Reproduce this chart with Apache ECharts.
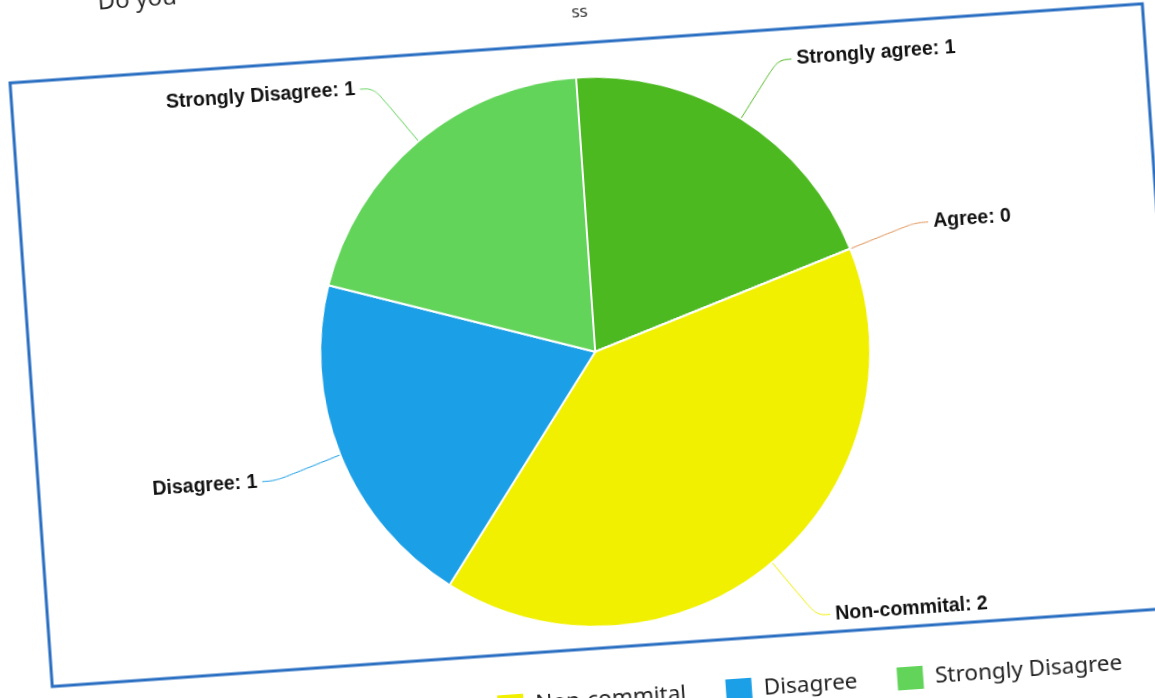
<!DOCTYPE html>
<html>
<head>
<meta charset="utf-8">
<script src="https://cdn.jsdelivr.net/npm/echarts@6/dist/echarts.min.js"></script>
<style>
html,body{margin:0;padding:0;width:1155px;height:698px;overflow:hidden;background:#fff;}
#chart{position:absolute;left:0;top:-60px;width:1200px;height:820px;transform-origin:578px 409px;transform:rotate(-4deg);}
</style>
</head>
<body>
<div id="chart"></div>
<script>
const categories = ['Strongly agree', 'Agree', 'Non-commital', 'Disagree', 'Strongly Disagree'];
const counts = [1, 0, 2, 1, 1];
const colors = ['#4cb920', '#e0955a', '#f0f000', '#1b9fe6', '#62d45a'];
const headerLeft = 'Do you';
const headerCenter = 'ss';

const chart = echarts.init(document.getElementById('chart'));
chart.setOption({
  animation: false,
  backgroundColor: '#ffffff',
  color: colors,
  title: [
    { text: headerLeft, left: 118, top: 13, textStyle: { fontFamily: 'Open Sans', fontSize: 24, fontWeight: 'normal', color: '#222' } },
    { text: headerCenter, left: 598, top: 60, textAlign: 'center', textStyle: { fontFamily: 'Open Sans', fontSize: 17, fontWeight: 'normal', color: '#222' } }
  ],
  graphic: [
    { type: 'rect', shape: { x: 30, y: 104, width: 1135, height: 605 }, style: { fill: 'none', stroke: '#2a6fc2', lineWidth: 3 }, z: 0 }
  ],
  legend: {
    data: categories,
    right: 96,
    top: 742,
    icon: 'rect',
    itemWidth: 28,
    itemHeight: 25,
    itemGap: 38,
    textStyle: { fontFamily: 'Noto Sans', fontSize: 22.5, color: '#222', padding: [0, 0, 0, 6] }
  },
  series: [{
    type: 'pie',
    center: [595, 413],
    radius: 275,
    startAngle: 90,
    clockwise: true,
    avoidLabelOverlap: false,
    itemStyle: { borderColor: '#ffffff', borderWidth: 2 },
    label: {
      show: true,
      formatter: '{b}: {c}',
      fontFamily: 'Liberation Sans',
      fontWeight: 'bold',
      fontSize: 19.5,
      color: '#111',
      distanceToLabelLine: 5
    },
    labelLine: { show: true, length: 69, length2: 14, smooth: 0.4, lineStyle: { width: 1 } },
    data: categories.map((c, i) => ({ name: c, value: counts[i] }))
  }]
});
</script>
</body>
</html>
